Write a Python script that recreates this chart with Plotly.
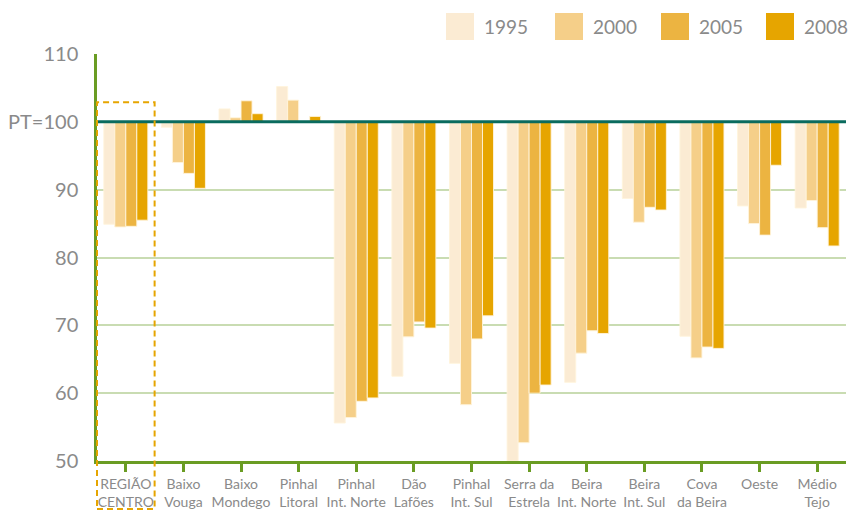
import plotly.graph_objects as go

# Regional index (Portugal = 100) for four years
regions = [
    "REGIÃO<br>CENTRO", "Baixo<br>Vouga", "Baixo<br>Mondego", "Pinhal<br>Litoral",
    "Pinhal<br>Int. Norte", "Dão<br>Lafões", "Pinhal<br>Int. Sul", "Serra da<br>Estrela",
    "Beira<br>Int. Norte", "Beira<br>Int. Sul", "Cova<br>da Beira", "Oeste", "Médio<br>Tejo",
]
years = ["1995", "2000", "2005", "2008"]

v1995 = [84.9, 99.2, 101.9, 105.2, 55.6, 62.5, 64.4, 50.0, 61.6, 88.7, 68.4, 87.6, 87.3]
v2000 = [84.5, 94.0, 100.6, 103.2, 56.4, 68.3, 58.3, 52.7, 65.9, 85.2, 65.2, 85.0, 88.4]
v2005 = [84.6, 92.4, 103.1, 100.0, 58.8, 70.5, 68.0, 60.0, 69.2, 87.4, 66.8, 83.3, 84.4]
v2008 = [85.5, 90.2, 101.2, 100.8, 59.3, 69.6, 71.4, 61.2, 68.8, 87.0, 66.6, 93.6, 81.7]

series = [v1995, v2000, v2005, v2008]
colors = ["#FBEBD3", "#F5CF89", "#ECB441", "#E6A500"]

BASE = 100
Y_MIN, Y_MAX = 50, 110
y_ticks = [50, 60, 70, 80, 90, 100, 110]
y_ticktext = ["50", "60", "70", "80", "90", "PT=100", "110"]

GRAY = "#8A8A8A"
GREEN = "#6A9C23"
GRID = "#C9DCB2"
TEAL = "#0A6B5E"
FONT = "Lato, 'Open Sans', sans-serif"

W, H = 850, 511
M_L, M_R, M_T, M_B = 97, 4, 54, 50
plot_w = W - M_L - M_R
plot_h = H - M_T - M_B


def px_x(px):
    return (px - M_L) / plot_w


def px_y(py):
    return (H - M_B - py) / plot_h


fig = go.Figure()
for yr, vals, col in zip(years, series, colors):
    fig.add_trace(go.Bar(
        x=list(range(len(regions))),
        y=[v - BASE for v in vals],
        base=BASE,
        name=yr,
        marker=dict(color=col, line=dict(color="rgba(255,244,220,0.9)", width=1)),
        customdata=vals,
        hovertemplate="%{customdata}<extra>" + yr + "</extra>",
    ))

shapes = []
# PT = 100 reference line
shapes.append(dict(type="line", xref="paper", yref="y", x0=0, x1=1, y0=BASE, y1=BASE,
                   line=dict(color=TEAL, width=3), layer="above"))
# dashed frame around the regional total
n = len(regions)
shapes.append(dict(type="rect", xref="paper", yref="paper",
                   x0=0, x1=1 / n,
                   y0=px_y(509), y1=(102.9 - Y_MIN) / (Y_MAX - Y_MIN),
                   line=dict(color="#E6A500", width=2, dash="6px,4px"),
                   fillcolor="rgba(0,0,0,0)", layer="above"))

annotations = []
# custom legend with large swatches
legend_left = [446, 555, 661, 766]
for yr, col, lx in zip(years, colors, legend_left):
    shapes.append(dict(type="rect", xref="paper", yref="paper",
                       x0=px_x(lx), x1=px_x(lx + 28), y0=px_y(40), y1=px_y(13),
                       fillcolor=col, line=dict(width=0), layer="above"))
    annotations.append(dict(xref="paper", yref="paper", x=px_x(lx + 36), y=px_y(27),
                            text=yr, showarrow=False, xanchor="left", yanchor="middle",
                            font=dict(family=FONT, size=19, color=GRAY)))

fig.update_layout(
    width=W, height=H,
    margin=dict(l=M_L, r=M_R, t=M_T, b=M_B),
    paper_bgcolor="white", plot_bgcolor="white",
    barmode="group", bargap=0.236, bargroupgap=0,
    showlegend=False,
    shapes=shapes, annotations=annotations,
    font=dict(family=FONT, color=GRAY),
    xaxis=dict(
        tickmode="array", tickvals=list(range(n)), ticktext=regions,
        range=[-0.5, n - 0.5], tickangle=0, automargin=False,
        showline=True, linecolor=GREEN, linewidth=3,
        ticks="outside", ticklen=8, tickwidth=3, tickcolor=GREEN,
        tickson="boundaries", showgrid=False,
        tickfont=dict(family=FONT, size=14, color=GRAY),
        fixedrange=True,
    ),
    yaxis=dict(
        range=[Y_MIN, Y_MAX], tickvals=y_ticks, ticktext=y_ticktext,
        automargin=False,
        showline=True, linecolor=GREEN, linewidth=2.5,
        showgrid=True, gridcolor=GRID, gridwidth=2,
        zeroline=False, ticks="", ticklabelstandoff=12,
        tickfont=dict(family=FONT, size=20, color=GRAY),
        fixedrange=True,
    ),
)

fig.write_html("out.html")
